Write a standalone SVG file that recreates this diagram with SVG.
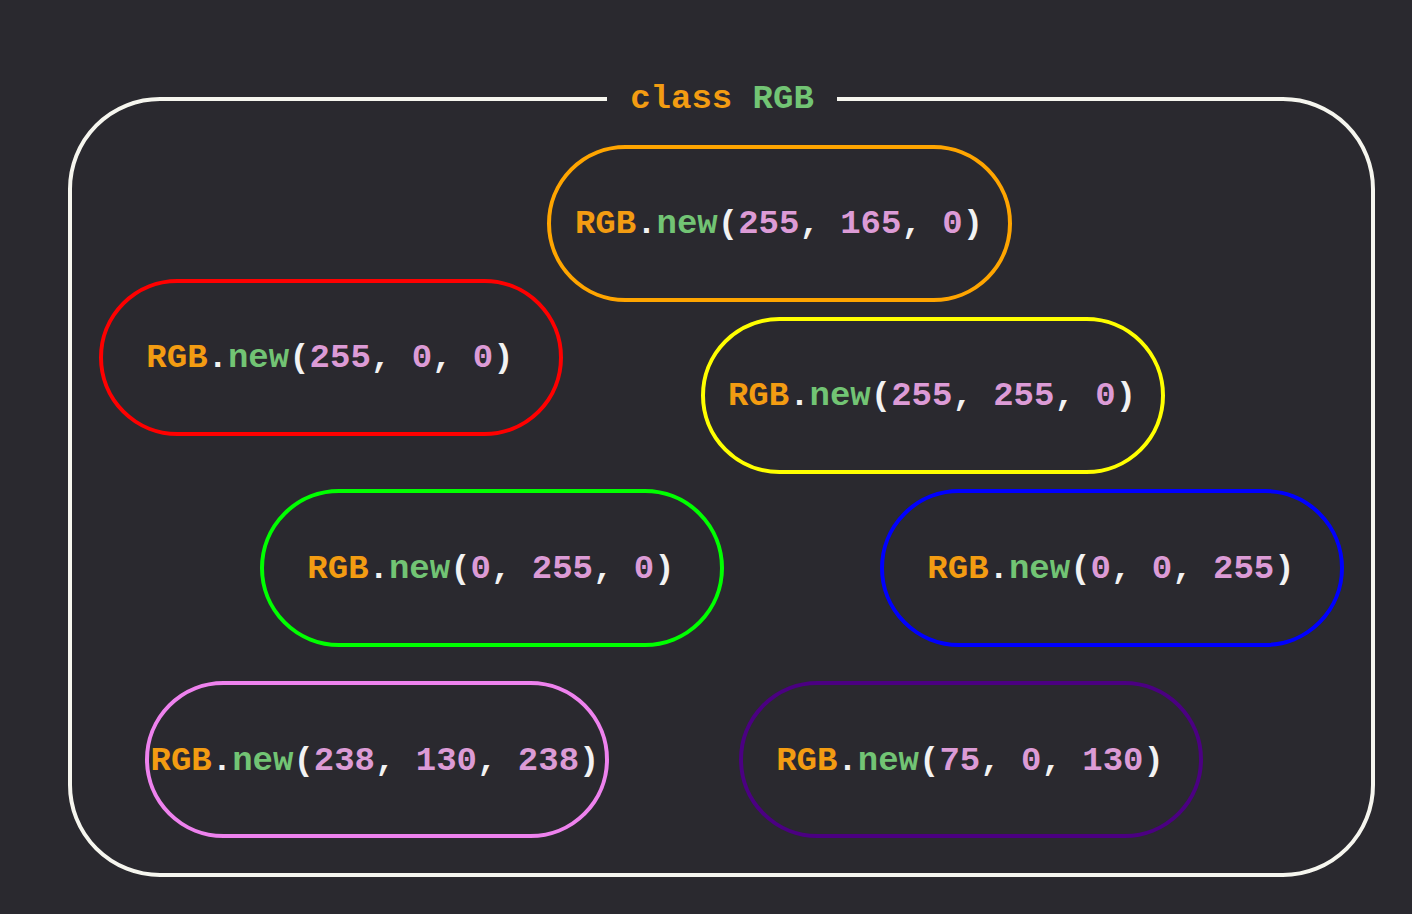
<svg xmlns="http://www.w3.org/2000/svg" width="1412" height="914" viewBox="0 0 1412 914">
<style>
.t{font-family:"Liberation Mono","DejaVu Sans Mono",monospace;font-weight:bold;font-size:34px;text-anchor:middle}
.k{fill:#f39c12}.m{fill:#72c474}.n{fill:#dc9bd6}.p{fill:#f2f2f2}
.box{fill:none;stroke-width:4}
</style>
<rect width="1412" height="914" fill="#2a292f"/>
<g id="container">
<path d="M607 99 H160 A90 90 0 0 0 70 189 V785 A90 90 0 0 0 160 875 H1283 A90 90 0 0 0 1373 785 V189 A90 90 0 0 0 1283 99 H837" fill="none" stroke="#f6f6ef" stroke-width="4"/>
<text class="t" x="722" y="108"><tspan class="k">class</tspan><tspan class="p"> </tspan><tspan class="m">RGB</tspan></text>
</g>
<g id="orange">
<rect class="box" x="549" y="147" width="461" height="153" rx="76.5" stroke="#ffa500"/>
<text class="t" x="779" y="233"><tspan class="k">RGB</tspan><tspan class="p">.</tspan><tspan class="m">new</tspan><tspan class="p">(</tspan><tspan class="n">255</tspan><tspan class="p">, </tspan><tspan class="n">165</tspan><tspan class="p">, </tspan><tspan class="n">0</tspan><tspan class="p">)</tspan></text>
</g>
<g id="red">
<rect class="box" x="101" y="281" width="460" height="153" rx="76.5" stroke="#ff0000"/>
<text class="t" x="330" y="367"><tspan class="k">RGB</tspan><tspan class="p">.</tspan><tspan class="m">new</tspan><tspan class="p">(</tspan><tspan class="n">255</tspan><tspan class="p">, </tspan><tspan class="n">0</tspan><tspan class="p">, </tspan><tspan class="n">0</tspan><tspan class="p">)</tspan></text>
</g>
<g id="yellow">
<rect class="box" x="703" y="319" width="460" height="153" rx="76.5" stroke="#ffff00"/>
<text class="t" x="932" y="405"><tspan class="k">RGB</tspan><tspan class="p">.</tspan><tspan class="m">new</tspan><tspan class="p">(</tspan><tspan class="n">255</tspan><tspan class="p">, </tspan><tspan class="n">255</tspan><tspan class="p">, </tspan><tspan class="n">0</tspan><tspan class="p">)</tspan></text>
</g>
<g id="green">
<rect class="box" x="262" y="491" width="460" height="154" rx="77" stroke="#00ff00"/>
<text class="t" x="491" y="578"><tspan class="k">RGB</tspan><tspan class="p">.</tspan><tspan class="m">new</tspan><tspan class="p">(</tspan><tspan class="n">0</tspan><tspan class="p">, </tspan><tspan class="n">255</tspan><tspan class="p">, </tspan><tspan class="n">0</tspan><tspan class="p">)</tspan></text>
</g>
<g id="blue">
<rect class="box" x="882" y="491" width="460" height="154" rx="77" stroke="#0000ff"/>
<text class="t" x="1111" y="578"><tspan class="k">RGB</tspan><tspan class="p">.</tspan><tspan class="m">new</tspan><tspan class="p">(</tspan><tspan class="n">0</tspan><tspan class="p">, </tspan><tspan class="n">0</tspan><tspan class="p">, </tspan><tspan class="n">255</tspan><tspan class="p">)</tspan></text>
</g>
<g id="violet">
<rect class="box" x="147" y="683" width="460" height="153" rx="76.5" stroke="#ee82ee"/>
<text class="t" x="375" y="770"><tspan class="k">RGB</tspan><tspan class="p">.</tspan><tspan class="m">new</tspan><tspan class="p">(</tspan><tspan class="n">238</tspan><tspan class="p">, </tspan><tspan class="n">130</tspan><tspan class="p">, </tspan><tspan class="n">238</tspan><tspan class="p">)</tspan></text>
</g>
<g id="indigo">
<rect class="box" x="741" y="683" width="460" height="153" rx="76.5" stroke="#4b0082"/>
<text class="t" x="970" y="770"><tspan class="k">RGB</tspan><tspan class="p">.</tspan><tspan class="m">new</tspan><tspan class="p">(</tspan><tspan class="n">75</tspan><tspan class="p">, </tspan><tspan class="n">0</tspan><tspan class="p">, </tspan><tspan class="n">130</tspan><tspan class="p">)</tspan></text>
</g>
<g id="connectors"></g>
</svg>
